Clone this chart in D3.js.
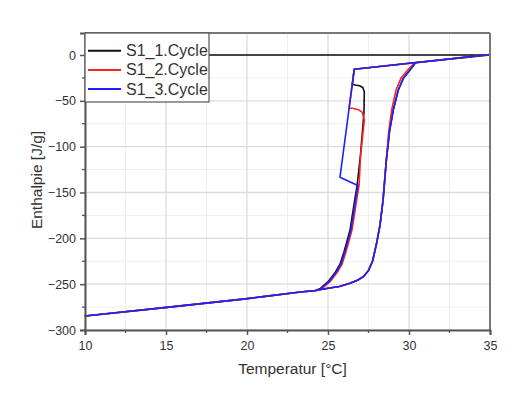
<!DOCTYPE html>
<html>
<head>
<meta charset="utf-8">
<script src="https://cdn.jsdelivr.net/npm/d3@7"></script>
<style>
  body { margin: 0; background: #ffffff; }
  text { font-family: "Liberation Sans", Arial, sans-serif; fill: #333333; }
</style>
</head>
<body>
<svg id="chart" width="526" height="397"></svg>
<script>
// Enthalpy curves (T in degC, H in J/g)

// sensible part of the solid, shared by all cycles
const solidTemp = [10, 14.9, 19.9, 21, 23.3, 24.2]
const solidEnth = [-284.7, -275.6, -266, -263.6, -258.5, -257]

// melting branch (heating)
const meltTemp = [24.2, 25.0, 25.7, 26.36, 26.85, 27.18, 27.5, 27.75, 28.0, 28.21, 28.4, 28.6, 28.8, 29.03, 29.34, 29.65, 30.06, 30.4]
const meltEnth = [-257, -254.5, -252.5, -249, -245.5, -241.8, -235, -225, -205.4, -185.5, -158, -115, -83, -60, -38.2, -25.5, -16.4, -8.4]

// cycle 2 melts a little earlier near the end
const meltTopTemp2 = [24.2, 25.0, 25.7, 26.36, 26.85, 27.18, 27.5, 27.75, 28.0, 28.21, 28.4, 28.6, 28.75, 28.93, 29.2, 29.5, 29.92, 30.35]
const meltTopEnth2 = [-257, -254.5, -252.5, -249, -245.5, -241.8, -235, -225, -205.4, -185.5, -158, -115, -83, -60, -38.2, -25.5, -16.4, -8.4]

// liquid line at the top
const liquidTemp = [35, 26.62]
const liquidEnth = [0.5, -15.6]

// solidification branch (cooling), from top to bottom
const freezeTemp = [26.8, 26.65, 26.36, 26.0, 25.75, 25.45, 25.02, 24.5, 24.2]
const freezeEnth = [-142, -158, -191, -214, -228, -237, -247, -255, -257]

// supercooling hooks of each cycle
const hook1Temp = [26.5, 26.67, 26.95, 27.15, 27.24, 27.22, 27.0]
const hook1Enth = [-32, -32.7, -33.6, -35.5, -40, -63, -110]
const hook2Temp = [26.3, 26.5, 26.9, 27.12, 27.24, 27.0]
const hook2Enth = [-58, -58.1, -59.8, -62.5, -71, -112]
const hook3Temp = [25.74, 26.77]
const hook3Enth = [-133.4, -141.8]

// cycle 1 also has the flat start at 0 J/g
const startTemp = [10, 35]
const startEnth = [0, 0]

const seriesNames = ['S1_1.Cycle', 'S1_2.Cycle', 'S1_3.Cycle']
const seriesColors = ['#111111', '#ff2020', '#2020ff']

const xTicks = [10, 15, 20, 25, 30, 35]
const yTicks = [-300, -250, -200, -150, -100, -50, 0]

function pts (temps, enths, shift) {
  return temps.map((t, i) => ({ t: t + (shift || 0), h: enths[i] }))
}
function rev (arr) { return arr.slice().reverse() }

// build each cycle from its pieces
const cycles = [
  [].concat(pts(startTemp, startEnth), pts(liquidTemp, liquidEnth), pts(hook1Temp, hook1Enth),
    pts(freezeTemp, freezeEnth), pts(rev(solidTemp), rev(solidEnth)),
    pts(solidTemp, solidEnth), pts(meltTemp, meltEnth), [{ t: 35, h: 0 }]),
  [].concat(pts(liquidTemp, liquidEnth), pts(hook2Temp, hook2Enth),
    pts(freezeTemp, freezeEnth, 0.12), pts(rev(solidTemp), rev(solidEnth)),
    pts(solidTemp, solidEnth), pts(meltTopTemp2, meltTopEnth2), [{ t: 35, h: 0.5 }]),
  [].concat(pts(solidTemp, solidEnth), pts(meltTemp, meltEnth), pts(liquidTemp, liquidEnth),
    pts(hook3Temp, hook3Enth), pts(freezeTemp, freezeEnth, 0.05), pts(rev(solidTemp), rev(solidEnth)))
]

const svg = d3.select('#chart')
const margin = { left: 85, top: 33, right: 36, bottom: 67 }
const w = 526 - margin.left - margin.right
const h = 397 - margin.top - margin.bottom

const x = d3.scaleLinear().domain([10, 35]).range([0, w])
const y = d3.scaleLinear().domain([-300, 24]).range([h, 0])

const g = svg.append('g').attr('transform', 'translate(' + margin.left + ',' + margin.top + ')')

// grid, minor first then major
const xMinor = d3.range(12.5, 35, 5)
const yMinor = d3.range(-275, 24, 50)
g.selectAll('.xminor').data(xMinor).enter().append('line')
  .attr('x1', d => x(d)).attr('x2', d => x(d)).attr('y1', 0).attr('y2', h)
  .attr('stroke', '#efefef').attr('stroke-width', 1)
g.selectAll('.yminor').data(yMinor).enter().append('line')
  .attr('y1', d => y(d)).attr('y2', d => y(d)).attr('x1', 0).attr('x2', w)
  .attr('stroke', '#efefef').attr('stroke-width', 1)
g.selectAll('.xmajor').data(xTicks).enter().append('line')
  .attr('x1', d => x(d)).attr('x2', d => x(d)).attr('y1', 0).attr('y2', h)
  .attr('stroke', '#dcdcdc').attr('stroke-width', 1.3)
g.selectAll('.ymajor').data(yTicks).enter().append('line')
  .attr('y1', d => y(d)).attr('y2', d => y(d)).attr('x1', 0).attr('x2', w)
  .attr('stroke', '#dcdcdc').attr('stroke-width', 1.3)

// the curves, straight segments between the read points
const line = d3.line()
  .x(d => x(d.t))
  .y(d => y(d.h))

g.selectAll('.cycle').data(cycles).enter().append('path')
  .attr('class', 'cycle')
  .attr('d', d => line(d))
  .attr('fill', 'none')
  .attr('stroke', (d, i) => seriesColors[i])
  .attr('stroke-width', 1.6)
  .attr('stroke-linejoin', 'round')

// frame
g.append('line').attr('x1', 0).attr('x2', w).attr('y1', 0).attr('y2', 0)
  .attr('stroke', '#777777').attr('stroke-width', 2)
g.append('line').attr('x1', w).attr('x2', w).attr('y1', 0).attr('y2', h)
  .attr('stroke', '#777777').attr('stroke-width', 2)

// axes
const xAxis = g.append('g').attr('transform', 'translate(0,' + h + ')')
  .call(d3.axisBottom(x).tickValues(xTicks).tickSize(5).tickPadding(6).tickFormat(d3.format('d')))
const yAxis = g.append('g')
  .call(d3.axisLeft(y).tickValues(yTicks).tickSize(5).tickPadding(4).tickFormat(d3.format('d')))

for (const ax of [xAxis, yAxis]) {
  ax.select('.domain').attr('stroke', '#555555').attr('stroke-width', 2)
  ax.selectAll('.tick line').attr('stroke', '#555555').attr('stroke-width', 1.5)
  ax.selectAll('.tick text').style('font-size', '12.5px').style('fill', '#333333')
    .style('font-family', '"Liberation Sans", Arial, sans-serif')
}

// minor ticks
g.selectAll('.xmt').data(xMinor).enter().append('line')
  .attr('x1', d => x(d)).attr('x2', d => x(d)).attr('y1', h).attr('y2', h + 3)
  .attr('stroke', '#555555').attr('stroke-width', 1.3)
g.selectAll('.ymt').data(yMinor).enter().append('line')
  .attr('y1', d => y(d)).attr('y2', d => y(d)).attr('x1', 0).attr('x2', -3)
  .attr('stroke', '#555555').attr('stroke-width', 1.3)

// axis titles
svg.append('text')
  .attr('x', margin.left + w / 2 + 5).attr('y', 374)
  .attr('text-anchor', 'middle')
  .style('font-size', '15.5px')
  .text('Temperatur [°C]')
svg.append('text')
  .attr('transform', 'translate(42,' + (margin.top + 147) + ') rotate(-90)')
  .attr('text-anchor', 'middle')
  .style('font-size', '15.5px')
  .text('Enthalpie [J/g]')

// legend (opaque box in the top left corner)
const legend = g.append('g')
legend.append('rect')
  .attr('x', 0).attr('y', 0).attr('width', 124).attr('height', 69)
  .attr('fill', '#ffffff').attr('stroke', '#555555').attr('stroke-width', 1.2)
seriesNames.forEach((name, i) => {
  const ly = 17.7 + i * 19.2
  legend.append('line')
    .attr('x1', 3).attr('x2', 36).attr('y1', ly).attr('y2', ly)
    .attr('stroke', seriesColors[i]).attr('stroke-width', 2)
  legend.append('text')
    .attr('x', 41).attr('y', ly + 5.5)
    .style('font-size', '16px')
    .text(name)
})
</script>
</body>
</html>
